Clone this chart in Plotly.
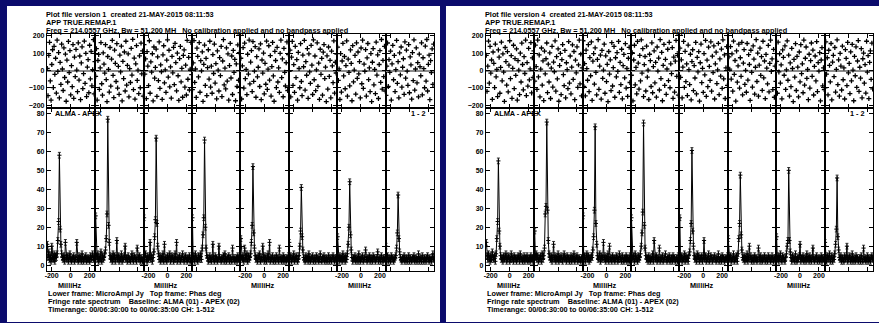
import plotly.graph_objects as go

W, H = 879, 323

# ---------------- data ----------------
FR_RANGE = [-250, 260]          # fringe rate axis of one IF box (MilliHz)
FR_TICKS = [-200, 0, 200]
PHASE_RANGE = [-215, 212]
PHASE_TICKS = [-200, -100, 0, 100, 200]
AMP_RANGE = [-3, 83]
AMP_TICKS = [0, 10, 20, 30, 40, 50, 60, 70, 80]
AMP_ERR = 1.5

# Plot file version 1 : phase (deg) per IF box
PHASE_V1 = [
    [12, -145, 88, 163, -60, -171, 35, 120, -98, 140, -22, 71, -130, 175, -5, 104,
     -158, 47, -80, 152, 9, -115, 131, -40, 95, -177, 60, -66, 168, -12, 115, -140,
     28, -93, 150, -160, 78, -35, 122, 3, -122, 160, -55, 84, -168, 44, 137, -104,
     -18, 170, -74, 99, -150, 20, 63, -128, 146, -48, 110, -88, 5, 178, -135, 52],
    [-33, 126, -170, 58, 93, -108, 15, 161, -76, -142, 102, 37, -15, 149, -52, -179,
     81, 7, -124, 133, -90, 66, 174, -28, -156, 118, 42, -63, 155, -101, 24, -137,
     89, -8, 141, -175, 53, -46, 107, -118, 169, -84, 30, 96, -152, 11, -69, 128,
     -26, 180, -110, 72, -165, 39, 144, -57, 2, -133, 85, -99, 158, -19, 113, -147],
    [150, -20, 67, -162, 109, 26, -87, 172, -131, 50, -9, 97, -175, 136, -44, 18,
     124, -149, 79, -58, 165, -103, 33, -7, -166, 91, 143, -71, 4, -126, 60, 177,
     -38, 117, -94, 21, -159, 82, -13, 134, -81, 157, 46, -117, 100, -30, -172, 69,
     139, -65, 13, -154, 87, 119, -96, 31, -141, 174, -50, 76, -112, 8, 162, -24],
    [-110, 44, 173, -68, 9, -155, 129, 82, -37, 161, -125, 57, -2, 108, -178, 36,
     147, -86, 70, -144, 17, 120, -49, 169, -95, 25, -131, 92, -17, 153, -72, 40,
     -163, 113, 2, -118, 75, -29, 139, -150, 55, 178, -83, 14, -106, 131, -61, 96,
     -171, 29, 157, -43, 84, -138, 116, -11, 64, -174, 38, -92, 148, -56, 103, -127],
    [71, -164, 27, 132, -101, 158, -47, 6, -139, 94, -20, 176, -77, 49, 115, -121,
     167, -62, -3, 138, -154, 80, -36, 19, 125, -92, 154, -168, 61, -15, 101, -134,
     42, -79, 170, -109, 8, 143, -55, 86, -147, 23, 162, -31, -177, 111, 58, -98,
     134, -66, 16, -126, 99, 175, -41, 67, -151, 128, -10, -89, 45, 165, -115, 92],
    [-4, 118, -152, 77, 168, -86, 34, -126, 140, -41, 63, -171, 105, 12, -99, 155,
     -63, -145, 89, 22, 174, -113, 51, -27, 127, -160, 96, -8, -74, 145, 31, -138,
     177, -53, 84, -116, 4, 160, -91, 43, -166, 123, -22, 70, -142, 106, 150, -46,
     20, -179, 85, -107, 136, -34, 59, -157, 112, 27, -70, 171, -130, 48, -14, 95],
    [135, -57, 10, -167, 98, -124, 55, 157, -31, 81, -105, 29, 171, -148, 66, -11,
     -88, 119, 41, -174, 144, -65, 3, 87, -136, 160, -45, 107, -19, 52, -158, 130,
     -76, 175, -103, 37, -4, 121, -147, 73, 156, -52, 15, -122, 98, -179, 48, 127,
     -82, 6, -133, 164, -26, 91, -161, 35, 115, -68, 179, -107, 59, -35, 140, -118],
    [-143, 26, 159, -92, 63, -10, 112, -170, 38, 145, -53, 87, -121, 5, 174, -74,
     51, -157, 102, -25, 136, -96, 19, 68, -137, 166, -44, 118, -3, -85, 150, -128,
     79, 33, -165, 104, -58, 177, -113, 9, 131, -71, 46, -152, 95, 22, -30, 160,
     -140, 74, 11, -99, 141, -61, 179, -118, 36, 89, -168, 57, -12, 125, -80, 153],
]

# Plot file version 1 : amplitude (MicroAmpl Jy) per IF box
AMP_V1 = [
    [11, 4, 7, 3, 5, 2, 10, 4, 3, 6, 2, 5, 4, 6, 13, 23, 58, 19, 11, 6,
     4, 3, 5, 2, 12, 4, 3, 5, 2, 4, 6, 3, 2, 4, 3, 5, 2, 3, 4, 12,
     3, 2, 5, 3, 4, 2, 6, 3, 2, 4, 3, 5, 2, 3, 4, 3, 2, 5, 3, 4, 6, 3, 4, 5],
    [26, 5, 3, 6, 2, 4, 3, 7, 2, 5, 3, 4, 6, 8, 14, 27, 77, 21, 12, 5,
     3, 4, 2, 6, 3, 5, 2, 4, 13, 3, 5, 2, 4, 3, 6, 2, 4, 3, 5, 10,
     3, 4, 2, 5, 3, 3, 2, 4, 6, 3, 2, 5, 4, 3, 2, 9, 4, 3, 5, 2, 4, 3, 2, 4],
    [25, 4, 6, 3, 2, 5, 3, 4, 12, 3, 5, 2, 4, 7, 15, 24, 67, 22, 10, 6,
     3, 5, 2, 4, 3, 6, 2, 11, 3, 4, 2, 5, 3, 4, 6, 2, 3, 5, 4, 2,
     3, 6, 3, 12, 2, 4, 3, 5, 2, 3, 4, 6, 3, 2, 4, 5, 3, 2, 4, 3, 5, 2, 3, 4],
    [25, 3, 5, 2, 6, 4, 3, 2, 5, 4, 3, 6, 3, 9, 16, 25, 66, 20, 9, 5,
     4, 2, 3, 5, 3, 2, 4, 11, 3, 2, 5, 3, 4, 2, 3, 10, 4, 3, 2, 4,
     3, 5, 2, 6, 3, 2, 4, 3, 5, 2, 4, 3, 2, 9, 3, 4, 2, 3, 4, 2, 5, 3, 4, 3],
    [14, 4, 3, 5, 2, 9, 4, 3, 6, 2, 5, 3, 4, 6, 12, 21, 52, 17, 9, 5,
     3, 4, 2, 5, 3, 6, 2, 4, 3, 10, 4, 2, 5, 3, 2, 4, 6, 3, 12, 2,
     4, 3, 5, 2, 3, 4, 2, 5, 3, 4, 2, 9, 3, 4, 2, 3, 5, 2, 4, 3, 2, 4, 3, 5],
    [12, 3, 5, 2, 4, 3, 6, 2, 4, 3, 5, 2, 3, 5, 10, 18, 41, 15, 8, 4,
     3, 2, 5, 3, 4, 2, 6, 3, 2, 4, 3, 5, 2, 3, 4, 2, 5, 3, 4, 2,
     3, 6, 3, 2, 4, 3, 5, 2, 3, 4, 2, 3, 5, 2, 4, 3, 2, 4, 5, 3, 2, 4, 3, 4],
    [15, 4, 2, 5, 3, 4, 2, 6, 3, 4, 2, 5, 3, 6, 11, 20, 44, 16, 8, 4,
     2, 4, 3, 5, 2, 3, 4, 2, 6, 3, 2, 4, 3, 5, 2, 3, 4, 8, 3, 2,
     4, 3, 5, 2, 4, 3, 2, 5, 3, 4, 2, 3, 4, 7, 2, 3, 4, 2, 5, 3, 2, 4, 3, 4],
    [10, 3, 5, 2, 4, 3, 2, 5, 3, 4, 2, 3, 4, 5, 9, 17, 37, 14, 7, 4,
     3, 2, 4, 3, 5, 2, 3, 4, 2, 3, 5, 2, 4, 3, 2, 4, 3, 5, 2, 3,
     4, 2, 3, 6, 2, 4, 3, 2, 5, 3, 2, 4, 3, 2, 4, 5, 3, 2, 4, 3, 2, 4, 6, 3],
]

# Plot file version 4 : phase (deg) per IF box
PHASE_V4 = [
    [88, -120, 25, 170, -73, 140, -15, 61, -166, 107, 42, -98, 153, -36, 6, -150,
     119, 77, -131, 18, 164, -59, 96, -9, -178, 133, 52, -84, 109, -123, 31, 172,
     -47, 86, -160, 13, 146, -104, 69, -28, 125, -170, 57, 2, -139, 100, -66, 158,
     35, -111, 80, -17, 176, -144, 46, -90, 128, -54, 10, 161, -129, 73, -40, 114],
    [-61, 147, 23, -109, 176, -37, 90, -152, 8, 130, -84, 56, -173, 112, -19, 68,
     159, -127, 37, -66, 102, -161, 14, 140, -95, 49, -7, 171, -119, 80, -48, 125,
     -177, 29, 99, -139, 63, 150, -24, -87, 116, -157, 45, 5, -104, 167, -72, 84,
     -134, 20, 148, -51, 110, -168, 60, -13, 137, -97, 33, 175, -77, 95, -146, 16],
    [172, -92, 40, -146, 118, 11, -56, 149, -122, 75, -30, 165, -172, 54, 98, -78,
     131, -11, -140, 64, 178, -108, 26, 89, -165, 116, -45, 3, 152, -131, 85, -64,
     36, -179, 110, -20, 62, -116, 161, -89, 17, 139, -154, 74, -36, 104, -5, 168,
     -126, 47, -81, 123, -163, 28, 93, -42, 155, -101, 12, -149, 71, 134, -69, -23],
    [-27, 103, -175, 61, 146, -82, 18, -134, 168, 43, -107, 87, -60, 177, -15, 126,
     -150, 34, 81, -118, 141, -38, 2, -167, 94, 57, -92, 160, -128, 23, 114, -71,
     47, -153, 136, -3, 72, -112, 178, -46, 105, -174, 30, 151, -86, 65, -137, 9,
     123, -58, 163, -99, 39, -18, 132, -160, 78, -124, 54, 174, -33, 88, -142, 108],
    [129, -39, 62, -158, 20, 168, -97, 111, -64, 38, -144, 147, 5, -81, 94, -169,
     52, 120, -116, 29, -43, 162, -135, 76, -8, 109, -176, 45, 153, -70, 13, -126,
     98, -25, 174, -149, 60, -93, 135, 24, -57, 166, -119, 83, -12, 142, -164, 39,
     106, -75, 4, 157, -139, 67, -32, 124, -103, 177, -48, 90, -161, 15, 138, -86],
    [-156, 79, 8, 138, -49, 96, -119, 170, -22, 58, -176, 113, -67, 27, 152, -101,
     74, -33, 163, -140, 43, 121, -80, 1, -125, 156, -55, 92, 35, -172, 117, -10,
     -95, 142, 66, -136, 19, 178, -63, 101, -148, 31, 129, -28, 80, -114, 169, -42,
     55, -162, 93, 14, -77, 145, -123, 41, 175, -5, 67, -110, 122, -154, 26, -62],
    [53, -131, 164, -8, 97, -72, 33, -163, 119, 76, -27, 142, -109, 4, 171, -56,
     89, -147, 44, -93, 128, 12, -179, 64, -38, 155, -115, 82, 20, -152, 107, -65,
     149, -18, 39, -128, 176, -84, 71, 136, -45, 6, -168, 94, -101, 57, 159, -33,
     118, -141, 24, 84, -60, 167, -121, 46, -3, 103, -175, 61, 132, -88, 16, -110],
    [-100, 166, -21, 74, -140, 117, 30, -65, 156, -169, 49, 88, -35, 133, -124, 7,
     177, -81, 62, -148, 99, 26, -112, 141, -53, 15, -164, 121, 70, -87, 162, -13,
     41, -133, 108, -59, 151, 3, -174, 82, -30, 137, -97, 55, 173, -120, 19, -44,
     126, -157, 68, 101, -73, 34, -130, 169, -9, 86, -162, 47, 114, -51, 158, -106],
]

# Plot file version 4 : amplitude (MicroAmpl Jy) per IF box
AMP_V4 = [
    [12, 5, 3, 6, 4, 2, 5, 3, 7, 4, 3, 5, 2, 6, 14, 23, 55, 18, 10, 5,
     3, 4, 2, 5, 3, 4, 6, 2, 3, 5, 4, 2, 3, 6, 3, 4, 2, 5, 3, 4,
     2, 3, 5, 4, 2, 6, 3, 4, 2, 3, 5, 2, 4, 3, 5, 2, 3, 4, 2, 5, 3, 4, 2, 4],
    [18, 4, 6, 3, 5, 2, 4, 3, 5, 2, 6, 3, 5, 9, 27, 31, 75.5, 29, 13, 6,
     4, 3, 5, 2, 4, 11, 3, 5, 2, 4, 3, 6, 2, 4, 3, 5, 3, 2, 4, 6,
     3, 4, 2, 5, 3, 4, 2, 3, 5, 2, 4, 3, 6, 2, 3, 4, 5, 2, 3, 4, 3, 2, 4, 3],
    [26, 3, 5, 2, 4, 6, 3, 5, 2, 4, 3, 5, 4, 8, 15, 29, 73, 22, 11, 5,
     3, 4, 6, 2, 5, 3, 4, 12, 3, 5, 2, 4, 3, 6, 2, 10, 3, 4, 2, 5,
     3, 4, 2, 3, 5, 4, 2, 3, 6, 3, 4, 2, 5, 3, 2, 4, 3, 5, 2, 4, 3, 2, 5, 3],
    [25, 4, 3, 5, 2, 6, 3, 4, 2, 5, 3, 4, 6, 10, 17, 28, 75, 21, 9, 5,
     3, 4, 2, 5, 3, 2, 4, 3, 6, 2, 13, 4, 3, 5, 2, 4, 3, 9, 2, 4,
     3, 5, 2, 3, 4, 6, 3, 2, 4, 3, 5, 2, 3, 4, 2, 5, 3, 4, 2, 3, 4, 2, 5, 3],
    [25, 3, 5, 2, 4, 3, 6, 2, 5, 3, 4, 2, 5, 7, 13, 22, 60.5, 18, 10, 5,
     3, 4, 2, 6, 3, 5, 2, 4, 3, 5, 2, 4, 13, 3, 5, 2, 4, 3, 6, 2,
     3, 5, 4, 2, 3, 4, 5, 3, 2, 4, 3, 6, 2, 3, 4, 2, 5, 3, 4, 2, 3, 4, 3, 5],
    [14, 4, 3, 5, 2, 4, 3, 6, 2, 4, 3, 5, 2, 6, 14, 22, 47.5, 16, 8, 4,
     3, 5, 2, 4, 3, 6, 2, 4, 10, 3, 5, 2, 3, 4, 2, 5, 3, 4, 2, 3,
     9, 4, 2, 5, 3, 2, 4, 3, 5, 2, 4, 3, 2, 5, 3, 4, 2, 3, 5, 3, 2, 4, 3, 4],
    [15, 3, 5, 2, 4, 6, 3, 2, 5, 4, 3, 2, 4, 6, 10, 13, 50, 13, 7, 4,
     2, 5, 3, 4, 2, 6, 3, 2, 4, 3, 5, 11, 2, 4, 3, 5, 2, 3, 4, 2,
     6, 3, 4, 2, 5, 3, 2, 4, 9, 3, 2, 4, 3, 5, 2, 3, 4, 2, 3, 5, 2, 4, 3, 4],
    [12, 4, 2, 5, 3, 4, 6, 2, 3, 5, 2, 4, 3, 6, 11, 19, 46, 15, 8, 4,
     3, 5, 2, 4, 3, 2, 5, 3, 4, 10, 2, 3, 5, 4, 2, 3, 6, 2, 4, 3,
     2, 5, 3, 4, 2, 3, 4, 2, 5, 3, 2, 9, 3, 4, 2, 3, 5, 2, 4, 3, 2, 4, 5, 3],
]

VERSIONS = [1, 4]
PHASES = [PHASE_V1, PHASE_V4]
AMPS = [AMP_V1, AMP_V4]

TITLE_1 = "Plot file version {v}\u00a0\u00a0created 21-MAY-2015 08:11:53"
TITLE_2 = "APP TRUE.REMAP.1"
TITLE_3 = ("Freq = 214.0557 GHz, Bw = 51.200 MH\u00a0\u00a0\u00a0"
           "No calibration applied and no bandpass applied")
FOOT_1 = "Lower frame: MicroAmpl Jy\u00a0\u00a0\u00a0Top frame: Phas deg"
FOOT_2 = "Fringe rate spectrum\u00a0\u00a0\u00a0\u00a0Baseline: ALMA (01) - APEX (02)"
FOOT_3 = "Timerange: 00/06:30:00 to 00/06:35:00 CH: 1-512"
XLABEL = "MilliHz"
STATION_LABEL = "ALMA - APEX"
BASELINE_LABEL = "1 - 2"

# ---------------- layout geometry (pixels) ----------------
PANEL_OFFSETS = [0, 440]
FRAME_L, FRAME_R = 45, 433
TOP_Y0, MID_Y, BOT_Y1 = 33, 107.5, 271.5
NAVY = "#0b0b6c"
FONT = "Liberation Sans"
TXT = 7.3
TICK_TXT = 7


def px(x):
    return x / W


def py(y):
    return 1 - y / H


fig = go.Figure()
layout_axes = {}
annotations = []
shapes = []

n_if = 8
box_w = (FRAME_R - FRAME_L) / n_if
ax_id = 0
for p, off in enumerate(PANEL_OFFSETS):
    # white page behind each plot
    shapes.append(dict(type="rect", xref="paper", yref="paper",
                       x0=px(off + 5), x1=px(min(off + 439, W)),
                       y0=0, y1=py(5), fillcolor="white", line_width=0,
                       layer="below"))
    for k in range(n_if):
        x0 = px(off + FRAME_L + k * box_w)
        x1 = px(off + FRAME_L + (k + 1) * box_w)
        for r in range(2):
            ax_id += 1
            xa = "xaxis" if ax_id == 1 else f"xaxis{ax_id}"
            ya = "yaxis" if ax_id == 1 else f"yaxis{ax_id}"
            xr = "x" if ax_id == 1 else f"x{ax_id}"
            yr = "y" if ax_id == 1 else f"y{ax_id}"
            if r == 0:
                yd = [py(MID_Y), py(TOP_Y0)]
                vals = PHASES[p][k]
            else:
                yd = [py(BOT_Y1), py(MID_Y)]
                vals = AMPS[p][k]
            n = len(vals)
            step = (FR_RANGE[1] - FR_RANGE[0]) / n
            fr = [FR_RANGE[0] + (i + 0.5) * step for i in range(n)]
            layout_axes[xa] = dict(
                domain=[x0, x1], anchor=yr, range=FR_RANGE,
                showline=True, linecolor="black", linewidth=1, mirror="ticks",
                ticks="inside", ticklen=4, tickwidth=1, tickcolor="black",
                tickvals=FR_TICKS, ticktext=[str(t) for t in FR_TICKS],
                showticklabels=(r == 1 and k % 2 == 0),
                ticklabelstandoff=-2,
                tickfont=dict(family=FONT, size=TICK_TXT, color="black", weight="bold"),
                showgrid=False, zeroline=False, fixedrange=True)
            ydict = dict(
                domain=yd, anchor=xr,
                showline=True, linecolor="black", linewidth=1, mirror="ticks",
                ticks="inside", ticklen=4, tickwidth=1, tickcolor="black",
                showticklabels=(k == 0), showgrid=False,
                tickfont=dict(family=FONT, size=TICK_TXT, color="black", weight="bold"),
                fixedrange=True)
            if r == 0:
                ydict.update(range=PHASE_RANGE, tickvals=PHASE_TICKS,
                             zeroline=True, zerolinecolor="#8c8c8c",
                             zerolinewidth=2)
                fig.add_trace(go.Scatter(
                    x=fr, y=vals, mode="markers", xaxis=xr, yaxis=yr,
                    marker=dict(symbol="cross-thin", size=3.5, color="black",
                                line=dict(width=1.3, color="black")),
                    showlegend=False, hoverinfo="skip"))
            else:
                ydict.update(range=AMP_RANGE, tickvals=AMP_TICKS, zeroline=False)
                fig.add_trace(go.Scatter(
                    x=fr, y=vals, mode="lines+markers", xaxis=xr, yaxis=yr,
                    line=dict(color="black", width=1),
                    marker=dict(symbol="cross-thin", size=3, color="black",
                                line=dict(width=1, color="black")),
                    error_y=dict(type="constant", value=AMP_ERR, color="black",
                                 thickness=0.8, width=1.5),
                    showlegend=False, hoverinfo="skip"))
            layout_axes[ya] = ydict
        if k % 2 == 0:
            annotations.append(dict(
                text=XLABEL, xref="paper", yref="paper",
                x=px(off + FRAME_L + (k + 0.5) * box_w - 2), y=py(286),
                xanchor="center", yanchor="middle", showarrow=False,
                borderpad=0,
                font=dict(family=FONT, size=TXT, color="black", weight="bold")))

    def left_text(txt, x, y, anchor="left"):
        annotations.append(dict(
            text=txt, xref="paper", yref="paper", x=px(off + x), y=py(y),
            xanchor=anchor, yanchor="middle", showarrow=False, borderpad=0,
            font=dict(family=FONT, size=TXT, color="black", weight="bold")))

    left_text(TITLE_1.format(v=VERSIONS[p]), 43, 14)
    left_text(TITLE_2, 43, 22)
    left_text(TITLE_3, 43, 30)
    left_text(STATION_LABEL, 52, 113.5)
    left_text(BASELINE_LABEL, 426, 113.5, anchor="right")
    left_text(FOOT_1, 45, 294.5)
    left_text(FOOT_2, 45, 302.5)
    left_text(FOOT_3, 45, 310.5)

fig.update_layout(
    width=W, height=H, margin=dict(l=0, r=0, t=0, b=0, pad=0),
    paper_bgcolor=NAVY, plot_bgcolor="white",
    showlegend=False, annotations=annotations, shapes=shapes,
    **layout_axes)

fig.write_html("out.html",
               config={"displayModeBar": False, "staticPlot": True},
               post_script="document.body.style.margin='0px';"
                           "document.body.style.overflow='hidden';")
